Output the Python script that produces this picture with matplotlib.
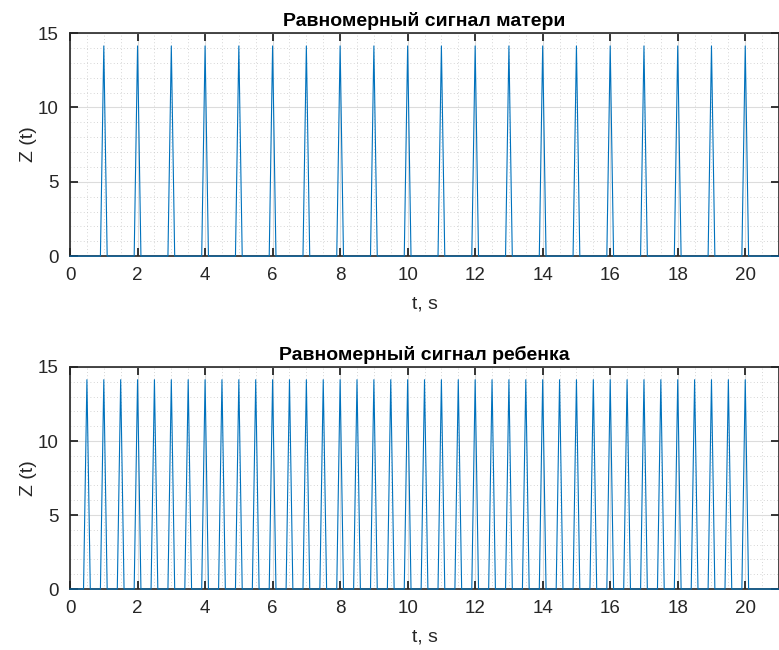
import numpy as np
import matplotlib.pyplot as plt
from matplotlib.ticker import MultipleLocator

# peak times (s) and peak amplitude
mother_peaks = [1, 2, 3, 4, 5, 6, 7, 8, 9, 10, 11, 12, 13, 14, 15, 16, 17, 18, 19, 20]
child_peaks = [0.5, 1.0, 1.5, 2.0, 2.5, 3.0, 3.5, 4.0, 4.5, 5.0,
               5.5, 6.0, 6.5, 7.0, 7.5, 8.0, 8.5, 9.0, 9.5, 10.0,
               10.5, 11.0, 11.5, 12.0, 12.5, 13.0, 13.5, 14.0, 14.5, 15.0,
               15.5, 16.0, 16.5, 17.0, 17.5, 18.0, 18.5, 19.0, 19.5, 20.0]
amp = 14.14
titles = ['Равномерный сигнал матери', 'Равномерный сигнал ребенка']

plt.rcParams['font.family'] = ['Liberation Sans', 'DejaVu Sans']
col = '#0072BD'
dark = '#262626'


def pulse_train(t, peaks, a, width=0.1):
    z = np.zeros_like(t)
    for p in peaks:
        z += a * np.clip(1 - np.abs(t - p) / width, 0, None)
    return z


t = np.arange(0, 21.0001, 0.005)

fig = plt.figure(figsize=(7.79, 6.5), dpi=100)
ax1 = fig.add_axes([0.0899, 0.606, 0.9101, 0.343])
ax2 = fig.add_axes([0.0899, 0.0938, 0.9101, 0.3416])

for ax, peaks, title in zip([ax1, ax2], [mother_peaks, child_peaks], titles):
    ax.plot(t, pulse_train(t, peaks, amp), color=col, lw=0.8, zorder=3, clip_on=False)
    ax.set_xlim(0, 21)
    ax.set_ylim(0, 15)
    ax.xaxis.set_major_locator(MultipleLocator(2))
    ax.xaxis.set_minor_locator(MultipleLocator(0.5))
    ax.yaxis.set_major_locator(MultipleLocator(5))
    ax.yaxis.set_minor_locator(MultipleLocator(1))
    ax.grid(which='major', color='#dcdcdc', lw=0.8, ls='-')
    ax.grid(which='minor', color='#c8c8c8', lw=0.6, ls=(0, (1, 3)))
    ax.set_axisbelow(True)
    ax.tick_params(which='major', direction='in', length=6, width=1.3,
                   top=True, right=True, colors=dark, labelsize=13.5, pad=8)
    ax.tick_params(which='minor', length=0)
    for s in ax.spines.values():
        s.set_color(dark)
        s.set_linewidth(1.2)
    ax.set_title(title, fontsize=14, fontweight='bold', pad=5)
    ax.set_xlabel('t, s', fontsize=14, color=dark, labelpad=8)
    ax.set_ylabel('Z (t)', fontsize=14, color=dark, labelpad=1)

fig.savefig('out.png', dpi=100)
